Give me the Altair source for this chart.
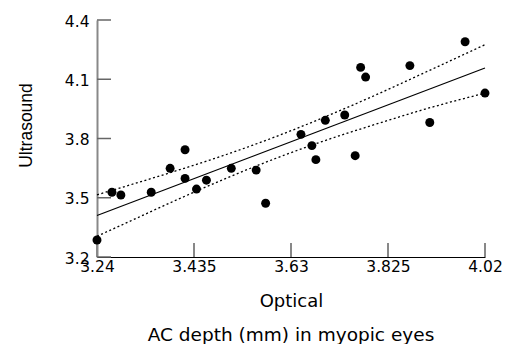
import altair as alt
import pandas as pd

# Scatter data
optical = [3.240, 3.270, 3.288, 3.349, 3.387, 3.417, 3.417, 3.440, 3.460, 3.510,
           3.560, 3.579, 3.650, 3.672, 3.680, 3.699, 3.738, 3.759, 3.770, 3.780,
           3.869, 3.909, 3.980, 4.020]
ultrasound = [3.286, 3.528, 3.514, 3.528, 3.649, 3.743, 3.598, 3.544, 3.589, 3.649,
              3.640, 3.472, 3.821, 3.764, 3.693, 3.892, 3.919, 3.713, 4.160, 4.111,
              4.169, 3.881, 4.290, 4.030]

# Regression line end points
fit_x = [3.24, 4.02]
fit_y = [3.41, 4.157]

# Confidence band (dotted)
band_x = [3.24, 3.30, 3.40, 3.50, 3.60, 3.70, 3.80, 3.90, 4.02]
band_upper = [3.515, 3.560, 3.637, 3.719, 3.810, 3.911, 4.020, 4.135, 4.275]
band_lower = [3.305, 3.374, 3.489, 3.599, 3.700, 3.791, 3.872, 3.949, 4.030]

x_ticks = [3.24, 3.435, 3.63, 3.825, 4.02]
y_ticks = [3.2, 3.5, 3.8, 4.1, 4.4]
x_title = "Optical"
y_title = "Ultrasound"
caption = "AC depth (mm) in myopic eyes"

W, H = 388, 237
FONT = "DejaVu Sans"

xscale = alt.Scale(domain=[3.24, 4.02], nice=False, zero=False)
yscale = alt.Scale(domain=[3.2, 4.4], nice=False, zero=False)

x_axis = alt.Axis(
    values=x_ticks, format=".3~f", title=x_title, ticks=False, grid=False,
    labelPadding=2, labelFlush=False, domainColor="black", domainWidth=1,
    labelFont=FONT, labelFontSize=15.5, labelColor="black",
    titleFont=FONT, titleFontSize=18, titleFontWeight="normal", titleColor="black",
    titleY=49, titleBaseline="alphabetic")
y_axis = alt.Axis(
    values=y_ticks, format=".1f", title=y_title, ticks=False, grid=False,
    labelPadding=8, labelOffset=1, labelFlush=False,
    domainColor="#888888", domainWidth=2,
    labelFont=FONT, labelFontSize=15.5, labelColor="black",
    titleFont="Liberation Sans", titleFontSize=17.5, titleFontWeight="normal",
    titleColor="black",
    titleAngle=270, titleX=-71, titleY=105, titleAlign="center",
    titleBaseline="middle")

pts = pd.DataFrame({"x": optical, "y": ultrasound})
fit = pd.DataFrame({"x": fit_x, "y": fit_y})
n = len(band_x)
band = pd.DataFrame({
    "x": band_x + band_x,
    "y": band_upper + band_lower,
    "side": ["upper"] * n + ["lower"] * n,
})

band_lines = alt.Chart(band).mark_line(
    color="black", strokeWidth=1.3, strokeDash=[2, 2.5], interpolate="monotone"
).encode(
    x=alt.X("x:Q", scale=xscale, axis=x_axis),
    y=alt.Y("y:Q", scale=yscale, axis=y_axis),
    detail="side:N",
)

fit_line = alt.Chart(fit).mark_line(color="black", strokeWidth=1.2).encode(
    x=alt.X("x:Q", scale=xscale),
    y=alt.Y("y:Q", scale=yscale),
)

points = alt.Chart(pts).mark_circle(size=80, color="black", opacity=1).encode(
    x=alt.X("x:Q", scale=xscale),
    y=alt.Y("y:Q", scale=yscale),
)

xt = alt.Chart(pd.DataFrame({"x": x_ticks})).mark_rule(color="#888888", strokeWidth=2).encode(
    x=alt.X("x:Q", scale=xscale),
    y=alt.value(H),
    y2=alt.value(H - 14),
)

yt = alt.Chart(pd.DataFrame({"y": y_ticks})).mark_rule(color="#666666", strokeWidth=1.5).encode(
    y=alt.Y("y:Q", scale=yscale),
    x=alt.value(0),
    x2=alt.value(14),
)

cap = alt.Chart(alt.Data(values=[{"t": caption}])).mark_text(
    font=FONT, fontSize=18.5, color="black", baseline="alphabetic", align="center"
).encode(
    text="t:N",
    x=alt.value(W / 2),
    y=alt.value(341 - 20),
)

chart = alt.layer(band_lines, fit_line, xt, yt, points, cap).properties(
    width=W, height=H,
    autosize=alt.AutoSizeParams(type="none"),
    padding={"left": 97, "top": 20, "right": 26, "bottom": 87},
).configure_view(stroke=None)

chart.save("out.html", embed_options={"renderer": "svg", "actions": False})
